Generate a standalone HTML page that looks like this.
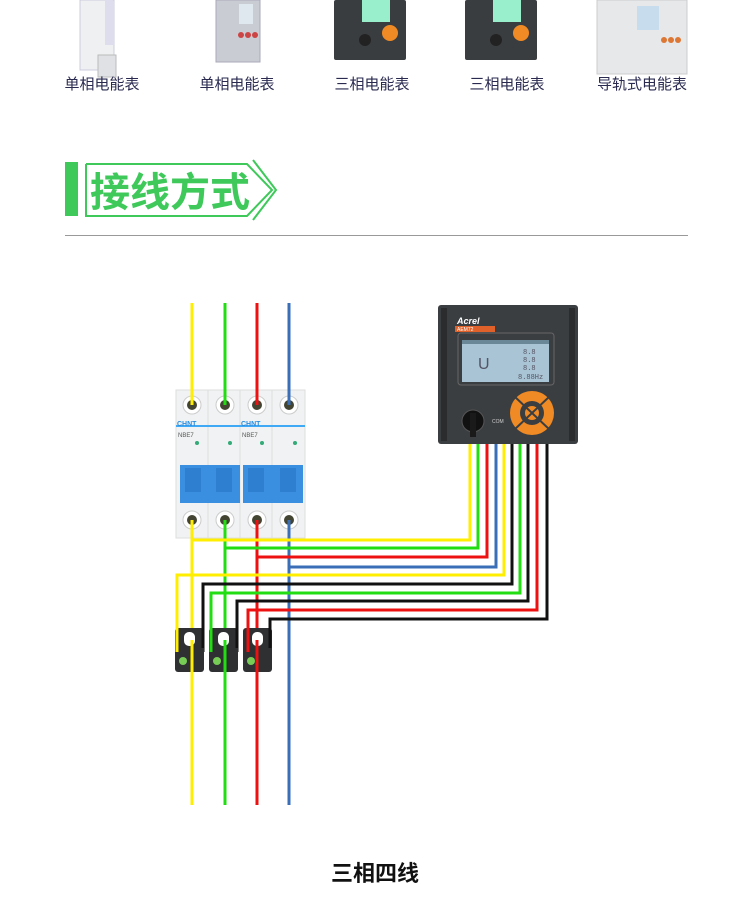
<!DOCTYPE html>
<html><head><meta charset="utf-8"><style>
body{margin:0;background:#fff;width:750px;height:906px;overflow:hidden;font-family:"Liberation Sans","Noto Sans CJK SC",sans-serif}
</style></head><body>
<svg width="750" height="906" viewBox="0 0 750 906" xmlns="http://www.w3.org/2000/svg" style="display:block">
<!-- product images -->
<g>
 <rect x="80" y="0" width="34" height="70" fill="#eef0f2" stroke="#ccd" />
 <rect x="105" y="0" width="8" height="45" fill="#dde"/>
 <rect x="98" y="55" width="18" height="22" fill="#dfe1e4" stroke="#bbb"/>
 <rect x="216" y="0" width="44" height="62" fill="#c9ccd2" stroke="#aab"/>
 <rect x="239" y="4" width="14" height="20" fill="#dfe8ef"/>
 <circle cx="241" cy="35" r="3" fill="#c44"/><circle cx="248" cy="35" r="3" fill="#c44"/><circle cx="255" cy="35" r="3" fill="#c44"/>
 <rect x="334" y="0" width="72" height="60" rx="2" fill="#3a3d40"/>
 <rect x="362" y="0" width="28" height="22" fill="#9ec"/>
 <circle cx="390" cy="33" r="8" fill="#f08a24"/><circle cx="365" cy="40" r="6" fill="#222"/>
 <rect x="465" y="0" width="72" height="60" rx="2" fill="#3a3d40"/>
 <rect x="493" y="0" width="28" height="22" fill="#9ec"/>
 <circle cx="521" cy="33" r="8" fill="#f08a24"/><circle cx="496" cy="40" r="6" fill="#222"/>
 <rect x="597" y="0" width="90" height="74" fill="#e6e8ea" stroke="#ccc"/>
 <rect x="637" y="6" width="22" height="24" fill="#c7dced"/>
 <circle cx="664" cy="40" r="3" fill="#d73"/><circle cx="671" cy="40" r="3" fill="#d73"/><circle cx="678" cy="40" r="3" fill="#d73"/>
</g>
<g font-size="15" fill="#2a2a50" text-anchor="middle">
 <text x="102" y="89">单相电能表</text>
 <text x="237" y="89">单相电能表</text>
 <text x="372" y="89">三相电能表</text>
 <text x="507" y="89">三相电能表</text>
 <text x="642" y="89">导轨式电能表</text>
</g>
<!-- heading -->
<rect x="65" y="162" width="13" height="54" fill="#3ec95a"/>
<polyline points="86,164 247,164 272,190 247,216 86,216 86,164" fill="none" stroke="#3ec95a" stroke-width="2"/>
<polyline points="253,160 276,190 253,220" fill="none" stroke="#3ec95a" stroke-width="2"/>
<text x="90" y="206" font-size="40" font-weight="bold" fill="#3ec95a">接线方式</text>
<rect x="65" y="235" width="623" height="1" fill="#999"/>

<!-- main phase verticals -->
<g stroke-width="3" fill="none">
 <line x1="192" y1="303" x2="192" y2="805" stroke="#ffee00"/>
 <line x1="225" y1="303" x2="225" y2="805" stroke="#22dd11"/>
 <line x1="257" y1="303" x2="257" y2="805" stroke="#ee1111"/>
 <line x1="289" y1="303" x2="289" y2="805" stroke="#3a6fb8"/>
</g>
<!-- breaker -->
<g>
 <rect x="176" y="390" width="129" height="148" fill="#f1f2f3" stroke="#ddd"/>
 <line x1="208" y1="390" x2="208" y2="538" stroke="#ddd"/>
 <line x1="240" y1="390" x2="240" y2="538" stroke="#ddd"/>
 <line x1="272" y1="390" x2="272" y2="538" stroke="#ddd"/>
 <g fill="#fff" stroke="#ccc"><circle cx="192" cy="405" r="9"/><circle cx="225" cy="405" r="9"/><circle cx="257" cy="405" r="9"/><circle cx="289" cy="405" r="9"/>
 <circle cx="192" cy="520" r="9"/><circle cx="225" cy="520" r="9"/><circle cx="257" cy="520" r="9"/><circle cx="289" cy="520" r="9"/></g>
 <g fill="#443"><circle cx="192" cy="405" r="5"/><circle cx="225" cy="405" r="5"/><circle cx="257" cy="405" r="5"/><circle cx="289" cy="405" r="5"/>
 <circle cx="192" cy="520" r="5"/><circle cx="225" cy="520" r="5"/><circle cx="257" cy="520" r="5"/><circle cx="289" cy="520" r="5"/></g>
 <rect x="176" y="425" width="129" height="2" fill="#3fa9f5"/>
 <text x="177" y="426" font-size="7" font-weight="bold" fill="#2b8de0">CHNT</text>
 <text x="241" y="426" font-size="7" font-weight="bold" fill="#2b8de0">CHNT</text>
 <text x="178" y="437" font-size="6" fill="#555">NBE7</text><text x="242" y="437" font-size="6" fill="#555">NBE7</text>
 <g fill="#3a7"><circle cx="197" cy="443" r="2"/><circle cx="230" cy="443" r="2"/><circle cx="262" cy="443" r="2"/><circle cx="295" cy="443" r="2"/></g>
 <rect x="180" y="465" width="60" height="38" fill="#3b8fe0"/>
 <rect x="243" y="465" width="60" height="38" fill="#3b8fe0"/>
 <rect x="185" y="468" width="16" height="24" fill="#2f7fd0"/><rect x="216" y="468" width="16" height="24" fill="#2f7fd0"/>
 <rect x="248" y="468" width="16" height="24" fill="#2f7fd0"/><rect x="280" y="468" width="16" height="24" fill="#2f7fd0"/>
</g>
<g stroke-width="3" fill="none">
 <line x1="192" y1="520" x2="192" y2="540" stroke="#ffee00"/>
 <line x1="225" y1="520" x2="225" y2="548" stroke="#22dd11"/>
 <line x1="257" y1="520" x2="257" y2="557" stroke="#ee1111"/>
 <line x1="289" y1="520" x2="289" y2="567" stroke="#3a6fb8"/>
 <line x1="192" y1="303" x2="192" y2="405" stroke="#ffee00"/>
 <line x1="225" y1="303" x2="225" y2="405" stroke="#22dd11"/>
 <line x1="257" y1="303" x2="257" y2="405" stroke="#ee1111"/>
 <line x1="289" y1="303" x2="289" y2="405" stroke="#3a6fb8"/>
</g>
<!-- wires to meter -->
<g stroke-width="3" fill="none">
 <polyline points="192,540 470,540 470,444" stroke="#ffee00"/>
 <polyline points="225,548 478,548 478,444" stroke="#22dd11"/>
 <polyline points="257,557 487,557 487,444" stroke="#ee1111"/>
 <polyline points="289,567 496,567 496,444" stroke="#3a6fb8"/>
 <polyline points="177,652 177,575 504,575 504,444" stroke="#ffee00"/>
 <polyline points="203,652 203,584 512,584 512,444" stroke="#111"/>
 <polyline points="211,652 211,593 520,593 520,444" stroke="#22dd11"/>
 <polyline points="237,652 237,601 528,601 528,444" stroke="#111"/>
 <polyline points="248,652 248,610 537,610 537,444" stroke="#ee1111"/>
 <polyline points="270,652 270,619 547,619 547,444" stroke="#111"/>
</g>
<!-- CTs -->
<g>
 <g transform="translate(175,628)"><rect x="0" y="0" width="29" height="44" rx="3" fill="#2e3032"/><rect x="9" y="4" width="11" height="14" rx="5" fill="#fff"/><circle cx="8" cy="33" r="4" fill="#7c5"/></g>
 <g transform="translate(209,628)"><rect x="0" y="0" width="29" height="44" rx="3" fill="#2e3032"/><rect x="9" y="4" width="11" height="14" rx="5" fill="#fff"/><circle cx="8" cy="33" r="4" fill="#7c5"/></g>
 <g transform="translate(243,628)"><rect x="0" y="0" width="29" height="44" rx="3" fill="#2e3032"/><rect x="9" y="4" width="11" height="14" rx="5" fill="#fff"/><circle cx="8" cy="33" r="4" fill="#7c5"/></g>
 <g stroke-width="3"><line x1="177" y1="600" x2="177" y2="652" stroke="#ffee00"/><line x1="211" y1="600" x2="211" y2="652" stroke="#22dd11"/><line x1="248" y1="615" x2="248" y2="652" stroke="#ee1111"/>
 <line x1="192" y1="640" x2="192" y2="805" stroke="#ffee00"/><line x1="225" y1="640" x2="225" y2="805" stroke="#22dd11"/><line x1="257" y1="640" x2="257" y2="805" stroke="#ee1111"/>
 <line x1="203" y1="600" x2="203" y2="648" stroke="#111"/><line x1="237" y1="610" x2="237" y2="648" stroke="#111"/><line x1="270" y1="620" x2="270" y2="648" stroke="#111"/></g>
</g>
<!-- meter -->
<g>
 <rect x="438" y="305" width="140" height="139" rx="3" fill="#3b3e41"/>
 <rect x="441" y="308" width="6" height="133" fill="#2a2c2e"/><rect x="569" y="308" width="6" height="133" fill="#2a2c2e"/>
 <text x="457" y="324" font-size="9" font-style="italic" font-weight="bold" fill="#fff">Acrel</text>
 <rect x="455" y="326" width="40" height="6" fill="#e0622a"/>
 <text x="457" y="331" font-size="5" fill="#fff">AEM72</text>
 <rect x="458" y="333" width="96" height="52" rx="3" fill="none" stroke="#666"/>
 <rect x="462" y="340" width="87" height="42" fill="#a9c4d4"/>
 <rect x="462" y="340" width="87" height="4" fill="#6a8798"/>
 <text x="478" y="369" font-size="16" fill="#556">U</text>
 <g font-size="7" fill="#556" font-family="Liberation Mono,monospace"><text x="523" y="354">8.8</text><text x="523" y="362">8.8</text><text x="523" y="370">8.8</text><text x="518" y="379">8.88Hz</text></g>
 <circle cx="473" cy="421" r="11" fill="#111" stroke="#555"/>
 <rect x="470" y="413" width="6" height="24" fill="#1a1a1a"/>
 <text x="492" y="423" font-size="5" fill="#ccc">COM</text>
 <circle cx="532" cy="413" r="22" fill="#f08a24"/>
 <circle cx="532" cy="413" r="12" fill="#3b3e41"/>
 <circle cx="532" cy="413" r="7" fill="#f08a24"/>
 <line x1="514" y1="396" x2="550" y2="430" stroke="#3b3e41" stroke-width="2"/>
 <line x1="550" y1="396" x2="514" y2="430" stroke="#3b3e41" stroke-width="2"/>
</g>
<text x="375" y="881" font-size="22" font-weight="bold" fill="#111" text-anchor="middle">三相四线</text>
</svg>
</body></html>
